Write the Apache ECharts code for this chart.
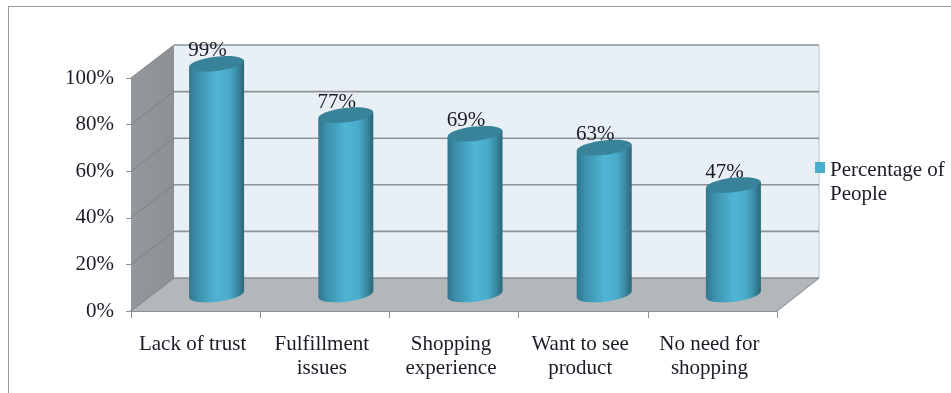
<!DOCTYPE html>
<html>
<head>
<meta charset="utf-8">
<style>html,body{margin:0;padding:0;background:#fff}#chart{width:951px;height:393px}</style>
<script src="https://cdn.jsdelivr.net/npm/echarts@6/dist/echarts.min.js"></script>
</head>
<body>
<div id="chart"></div>
<script>
// Reasons people give for not shopping online, drawn as pseudo-3D cylinders.
const categories = ['Lack of trust', 'Fulfillment\nissues', 'Shopping\nexperience', 'Want to see\nproduct', 'No need for\nshopping'];
const percentages = [99, 77, 69, 63, 47];
const yTicks = [0, 20, 40, 60, 80, 100];
const seriesName = 'Percentage of\nPeople';

const FONT = '"Liberation Serif", "Times New Roman", serif';
const TEXT = '#1c1c28';
const DEPTH_X = 43, DEPTH_Y = 33;       // projection offset of the back wall
const BAR_RX = 27.5, BAR_RY = 7.2, TILT = 0.117;
const EDGE = '#8d9295';

const chart = echarts.init(document.getElementById('chart'), null, { renderer: 'canvas' });

function poly(points, fill) {
  return { type: 'polygon', shape: { points }, style: { fill } };
}
function seg(x1, y1, x2, y2, stroke, lineWidth) {
  return { type: 'line', shape: { x1, y1, x2, y2 }, style: { stroke, lineWidth } };
}

// Left wall, floor and back wall with their gridlines.
function renderRoom(params, api) {
  const c = params.coordSys;
  const l = c.x, r = c.x + c.width, t = c.y, b = c.y + c.height;
  const bl = l + DEPTH_X, br = r + DEPTH_X - 1;
  const children = [
    poly([[bl, t - DEPTH_Y], [br, t - DEPTH_Y], [br, b - DEPTH_Y], [bl, b - DEPTH_Y]], '#e8f0f6'),
    poly([[l, t], [bl, t - DEPTH_Y], [bl, b - DEPTH_Y], [l, b]],
      new echarts.graphic.LinearGradient(0, 0, 1, 0, [
        { offset: 0, color: '#94989a' }, { offset: 1, color: '#8d9193' }
      ])),
    poly([[l, b], [r, b], [br, b - DEPTH_Y], [bl, b - DEPTH_Y]], '#b2b7ba'),
    seg(br, t - DEPTH_Y, br, b - DEPTH_Y, '#cdd4da', 1.5),
    seg(l, b, bl, b - DEPTH_Y, '#9aa0a3', 1),
    seg(r, b, br, b - DEPTH_Y, '#9aa0a3', 1.5)
  ];
  yTicks.forEach(v => {
    const y = api.coord([0, v])[1];
    children.push(seg(bl, y - DEPTH_Y, br, y - DEPTH_Y, EDGE, 1.6));
    children.push(seg(l, y, bl, y - DEPTH_Y, '#7d8284', 1));
  });
  return { type: 'group', children };
}

// One cylinder standing halfway into the room, with its value printed behind the rim.
function renderCylinder(params, api) {
  const top = api.coord([api.value(0), api.value(1)]);
  const foot = api.coord([api.value(0), 0]);
  const cx = top[0] + DEPTH_X / 2 - 0.5;
  const topY = top[1] - DEPTH_Y / 2;
  const footY = foot[1] - DEPTH_Y / 2;
  const lean = BAR_RX * Math.sin(TILT);  // rim height difference between the two sides
  const body = new echarts.graphic.LinearGradient(0, 0, 1, 0, [
    { offset: 0, color: '#31778e' },
    { offset: 0.16, color: '#3d91ad' },
    { offset: 0.5, color: '#4fb4d5' },
    { offset: 0.72, color: '#4aaccb' },
    { offset: 0.88, color: '#3a8aa3' },
    { offset: 1, color: '#2b6478' }
  ]);
  const ellipse = (y, fill) => ({
    type: 'ellipse', x: cx, y, rotation: TILT,
    shape: { cx: 0, cy: 0, rx: BAR_RX, ry: BAR_RY }, style: { fill }
  });
  return {
    type: 'group',
    children: [
      {
        type: 'text', x: cx - 9, y: topY - 13,
        style: { text: api.value(1) + '%', font: '21px ' + FONT, fill: TEXT, align: 'center', verticalAlign: 'middle' }
      },
      ellipse(footY, body),
      poly([
        [cx - BAR_RX, topY + lean], [cx + BAR_RX, topY - lean],
        [cx + BAR_RX, footY - lean], [cx - BAR_RX, footY + lean]
      ], body),
      ellipse(topY, '#38829a')
    ]
  };
}

chart.setOption({
  animation: false,
  backgroundColor: '#fff',
  graphic: [
    { type: 'line', shape: { x1: 8, y1: 6.5, x2: 951, y2: 6.5 }, style: { stroke: '#9a9a9a', lineWidth: 1 } },
    { type: 'line', shape: { x1: 8.5, y1: 6, x2: 8.5, y2: 393 }, style: { stroke: '#9a9a9a', lineWidth: 1 } }
  ],
  grid: { left: 131, right: 174, top: 78, bottom: 82 },
  legend: {
    data: [seriesName],
    left: 815, top: 158,
    itemWidth: 10, itemHeight: 48, itemGap: 0, padding: 0,
    selectedMode: false,
    // Square beside the first text line; the corner specks only stretch the icon's box.
    icon: 'path://M0 4H10V15H0Z M0 0h.01v.01z M0 48h.01v.01z',
    itemStyle: { color: '#4aaecd', borderWidth: 0 },
    textStyle: { fontFamily: FONT, fontSize: 21, color: TEXT, lineHeight: 24 }
  },
  xAxis: {
    type: 'category',
    data: categories,
    axisLine: { lineStyle: { color: EDGE, width: 2 } },
    axisTick: { show: true, length: 7, lineStyle: { color: EDGE, width: 1 } },
    axisLabel: { margin: 21, fontFamily: FONT, fontSize: 21, color: TEXT, lineHeight: 24, interval: 0, padding: [0, 6, 0, 0] }
  },
  yAxis: {
    type: 'value',
    min: 0, max: 100, interval: 20,
    splitLine: { show: false },
    axisLine: { show: true, lineStyle: { color: '#9aa0a3', width: 1 } },
    axisTick: { show: true, length: 5, lineStyle: { color: EDGE, width: 1 } },
    axisLabel: { margin: 17, formatter: '{value}%', fontFamily: FONT, fontSize: 21, color: TEXT, padding: [2, 0, 0, 0] }
  },
  series: [
    { type: 'custom', name: 'room', silent: true, clip: false, z: 1, data: [[0, 0]], renderItem: renderRoom },
    {
      type: 'custom', name: seriesName, clip: false, z: 2,
      itemStyle: { color: '#4aaecd' },
      encode: { x: 0, y: 1 },
      data: percentages.map((v, i) => [i, v]),
      renderItem: renderCylinder
    }
  ]
});
</script>
</body>
</html>
